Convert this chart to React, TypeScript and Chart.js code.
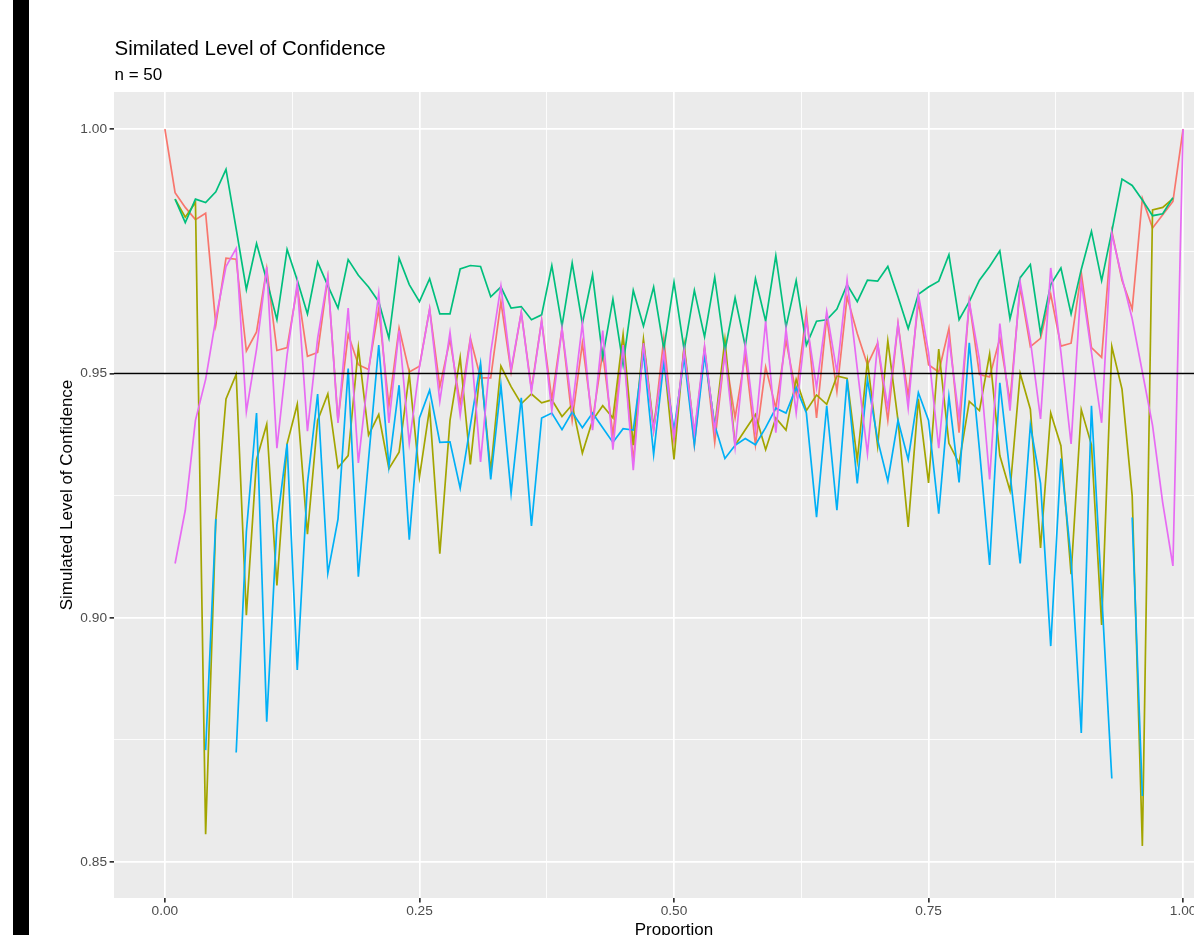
import React, { useEffect, useRef } from "react";
import { Chart, registerables } from "chart.js";

Chart.register(...registerables);

const proportion = [
  0, 0.01, 0.02, 0.03, 0.04, 0.05, 0.06, 0.07, 0.08, 0.09,
  0.1, 0.11, 0.12, 0.13, 0.14, 0.15, 0.16, 0.17, 0.18, 0.19,
  0.2, 0.21, 0.22, 0.23, 0.24, 0.25, 0.26, 0.27, 0.28, 0.29,
  0.3, 0.31, 0.32, 0.33, 0.34, 0.35, 0.36, 0.37, 0.38, 0.39,
  0.4, 0.41, 0.42, 0.43, 0.44, 0.45, 0.46, 0.47, 0.48, 0.49,
  0.5, 0.51, 0.52, 0.53, 0.54, 0.55, 0.56, 0.57, 0.58, 0.59,
  0.6, 0.61, 0.62, 0.63, 0.64, 0.65, 0.66, 0.67, 0.68, 0.69,
  0.7, 0.71, 0.72, 0.73, 0.74, 0.75, 0.76, 0.77, 0.78, 0.79,
  0.8, 0.81, 0.82, 0.83, 0.84, 0.85, 0.86, 0.87, 0.88, 0.89,
  0.9, 0.91, 0.92, 0.93, 0.94, 0.95, 0.96, 0.97, 0.98, 0.99,
  1.0,
];

const seriesRed = [
  1.0, 0.987, 0.984, 0.9815, 0.9828, 0.96, 0.9736, 0.9734, 0.9546, 0.9585,
  0.9715, 0.9547, 0.9553, 0.9677, 0.9535, 0.9543, 0.9696, 0.9404, 0.958, 0.9518,
  0.9508, 0.9632, 0.9434, 0.9593, 0.9503, 0.9515, 0.9632, 0.9473, 0.957, 0.9438,
  0.9572, 0.9491, 0.9491, 0.9647, 0.9503, 0.9625, 0.9468, 0.9608, 0.9446, 0.9592,
  0.9404, 0.9562, 0.9404, 0.9543, 0.9374, 0.9562, 0.9319, 0.9562, 0.9384, 0.9572,
  0.9364, 0.9553, 0.9354, 0.9553, 0.9359, 0.9543, 0.9409, 0.9538, 0.9354, 0.9513,
  0.9429, 0.9568, 0.9458, 0.9626, 0.9409, 0.9616, 0.9463, 0.9657, 0.9582, 0.9518,
  0.9562, 0.9404, 0.9602, 0.9453, 0.9647, 0.9518, 0.9503, 0.9592, 0.9379, 0.9647,
  0.9498, 0.9493, 0.9572, 0.9443, 0.9677, 0.9555, 0.9572, 0.9662, 0.9556, 0.9562,
  0.9706, 0.9553, 0.9533, 0.9791, 0.9691, 0.9632, 0.9858, 0.9798, 0.9825, 0.9852,
  1.0,
];

const seriesOlive = [
  null, 0.9857, 0.982, 0.985, 0.8557, 0.92, 0.9448, 0.9498, 0.9005, 0.9324,
  0.9396, 0.9066, 0.9356, 0.9437, 0.9171, 0.9404, 0.9458, 0.9307, 0.9332, 0.9553,
  0.9374, 0.9416, 0.9305, 0.9339, 0.9498, 0.9288, 0.9429, 0.9131, 0.9404, 0.9533,
  0.9314, 0.9513, 0.93, 0.9515, 0.9473, 0.9438, 0.9458, 0.944, 0.9446, 0.9412,
  0.9436, 0.9337, 0.9404, 0.9434, 0.9409, 0.958, 0.9353, 0.957, 0.9389, 0.9533,
  0.9324, 0.9558, 0.9374, 0.9548, 0.9389, 0.9569, 0.9353, 0.9385, 0.9416, 0.9344,
  0.9409, 0.9384, 0.9488, 0.9424, 0.9456, 0.9437, 0.9495, 0.949, 0.9322, 0.9525,
  0.9352, 0.9567, 0.9404, 0.9186, 0.9448, 0.9276, 0.955, 0.9357, 0.9316, 0.9443,
  0.9424, 0.954, 0.9332, 0.926, 0.95, 0.9427, 0.9143, 0.9419, 0.9352, 0.9089,
  0.9426, 0.9354, 0.8985, 0.9555, 0.9468, 0.925, 0.8533, 0.9835, 0.984, 0.9858,
  null,
];

const seriesGreen = [
  null, 0.9857, 0.9809, 0.9857, 0.985, 0.9872, 0.9918, 0.9796, 0.9672, 0.9766,
  0.9691, 0.961, 0.9754, 0.9691, 0.9622, 0.9728, 0.968, 0.9634, 0.9733, 0.9701,
  0.9677, 0.9647, 0.9572, 0.9736, 0.9682, 0.9647, 0.9694, 0.9622, 0.9622, 0.9714,
  0.9721, 0.9719, 0.9657, 0.9677, 0.9634, 0.9637, 0.961, 0.962, 0.9721, 0.9597,
  0.9726, 0.9602, 0.9702, 0.9533, 0.9652, 0.9518, 0.967, 0.9597, 0.9677, 0.955,
  0.9687, 0.9548, 0.967, 0.9575, 0.9697, 0.9546, 0.9655, 0.9556, 0.9694, 0.9607,
  0.9741, 0.9595, 0.969, 0.9558, 0.9607, 0.961, 0.9632, 0.9682, 0.9647, 0.9691,
  0.9689, 0.9719, 0.9657, 0.9592, 0.9662, 0.9677, 0.9689, 0.9743, 0.961, 0.9647,
  0.9691, 0.9719, 0.9751, 0.9612, 0.9696, 0.9723, 0.9582, 0.9682, 0.9716, 0.9622,
  0.9713, 0.9791, 0.969, 0.9791, 0.9898, 0.9885, 0.9855, 0.9823, 0.9827, 0.986,
  null,
];

const seriesBlue = [
  null, null, null, null, 0.8729, 0.9202, null, 0.8724, 0.9176, 0.9419,
  0.8787, 0.919, 0.9356, 0.8893, 0.9275, 0.9458, 0.9091, 0.9202, 0.951, 0.9084,
  0.9324, 0.9558, 0.931, 0.9476, 0.916, 0.9409, 0.9466, 0.9359, 0.936, 0.9265,
  0.9394, 0.9521, 0.9283, 0.9476, 0.9255, 0.945, 0.9188, 0.9409, 0.9419, 0.9385,
  0.9421, 0.9389, 0.9419, 0.9389, 0.9359, 0.9387, 0.9384, 0.9543, 0.9334, 0.9523,
  0.9384, 0.9533, 0.9354, 0.9538, 0.9394, 0.9326, 0.9353, 0.9367, 0.9354, 0.9389,
  0.9429, 0.9419, 0.9471, 0.9419, 0.9206, 0.9434, 0.922, 0.9488, 0.9275, 0.9488,
  0.9364, 0.928, 0.9404, 0.9324, 0.9461, 0.9404, 0.9213, 0.9453, 0.9277, 0.9563,
  0.9344, 0.9108, 0.9481, 0.9295, 0.9111, 0.9394, 0.9275, 0.8942, 0.9326, 0.912,
  0.8764, 0.9434, 0.905, 0.8671, null, 0.9205, 0.8635, null, null, null,
  null,
];

const seriesMagenta = [
  null, 0.9111, 0.922, 0.9404, 0.9488, 0.9612, 0.9719, 0.9756, 0.9422, 0.955,
  0.9718, 0.9347, 0.9538, 0.9685, 0.9382, 0.9572, 0.9698, 0.9399, 0.9634, 0.9317,
  0.9503, 0.9664, 0.9399, 0.9588, 0.9357, 0.9513, 0.9632, 0.9443, 0.9584, 0.9415,
  0.957, 0.9319, 0.9543, 0.9679, 0.9508, 0.9625, 0.9463, 0.9608, 0.9424, 0.9592,
  0.9429, 0.9602, 0.9384, 0.9588, 0.9344, 0.9558, 0.9302, 0.9562, 0.9384, 0.9543,
  0.9369, 0.9548, 0.9379, 0.9555, 0.9384, 0.9543, 0.9349, 0.9558, 0.9384, 0.9607,
  0.9379, 0.9591, 0.9419, 0.961, 0.9471, 0.9627, 0.9503, 0.9691, 0.951, 0.9336,
  0.9562, 0.9429, 0.9602, 0.9429, 0.9662, 0.9543, 0.9347, 0.9572, 0.9409, 0.9647,
  0.9528, 0.9283, 0.9602, 0.9424, 0.9687, 0.9568, 0.9407, 0.9716, 0.9543, 0.9356,
  0.9687, 0.9543, 0.9399, 0.9786, 0.9696, 0.9612, 0.9503, 0.9394, 0.9235, 0.9106,
  1.0,
];

const xTickValues = [0, 0.125, 0.25, 0.375, 0.5, 0.625, 0.75, 0.875, 1.0];
const xMajorTicks = [0, 0.25, 0.5, 0.75, 1.0];
const yTickValues = [0.85, 0.875, 0.9, 0.925, 0.95, 0.975, 1.0];
const yMajorTicks = [0.85, 0.9, 0.95, 1.0];
const referenceLevel = 0.95;

const titleText = "Similated Level of Confidence";
const subtitleText = "n = 50";
const xTitle = "Proportion";
const yTitle = "Simulated Level of Confidence";

const FONT = "'Liberation Sans', Arial, Helvetica, sans-serif";
const CANVAS_W = 1300;
const CANVAS_H = 935;

const isMajor = (v: number, list: number[]) => list.some((m) => Math.abs(m - v) < 1e-9);

export default function App() {
  const canvasRef = useRef<HTMLCanvasElement | null>(null);

  useEffect(() => {
    const canvas = canvasRef.current;
    if (!canvas) return;

    const mk = (label: string, values: (number | null)[], color: string, order: number) => ({
      label,
      data: proportion.map((p, i) => ({ x: p, y: values[i] })),
      borderColor: color,
      backgroundColor: color,
      borderWidth: 1.7,
      pointRadius: 0,
      tension: 0,
      spanGaps: false,
      order,
    });

    const ggplotDecor = {
      id: "ggplotDecor",
      beforeDraw(chart: any) {
        const { ctx, chartArea } = chart;
        ctx.save();
        ctx.fillStyle = "#EBEBEB";
        ctx.fillRect(chartArea.left, chartArea.top, chartArea.right - chartArea.left, chartArea.bottom - chartArea.top);
        ctx.restore();
      },
      afterDatasetsDraw(chart: any) {
        const { ctx, chartArea, scales } = chart;
        const y = scales.y.getPixelForValue(referenceLevel);
        ctx.save();
        ctx.strokeStyle = "#000000";
        ctx.lineWidth = 1.7;
        ctx.beginPath();
        ctx.moveTo(chartArea.left, y);
        ctx.lineTo(chartArea.right, y);
        ctx.stroke();
        ctx.restore();
      },
      afterDraw(chart: any) {
        const { ctx, chartArea } = chart;
        ctx.save();
        ctx.fillStyle = "#000000";
        ctx.textAlign = "left";
        ctx.textBaseline = "alphabetic";
        ctx.font = `20.5px ${FONT}`;
        ctx.fillText(titleText, chartArea.left + 0.5, 54.5);
        ctx.font = `17px ${FONT}`;
        ctx.fillText(subtitleText, chartArea.left + 0.5, 80);
        ctx.textAlign = "center";
        ctx.fillText(xTitle, (chartArea.left + chartArea.right) / 2, 935);
        ctx.translate(72, (chartArea.top + chartArea.bottom) / 2);
        ctx.rotate(-Math.PI / 2);
        ctx.fillText(yTitle, 0, 0);
        ctx.restore();
      },
    };

    const chart = new Chart(canvas, {
      type: "line",
      data: {
        datasets: [
          mk("red", seriesRed, "#F8766D", 5),
          mk("olive", seriesOlive, "#A3A500", 4),
          mk("green", seriesGreen, "#00BF7D", 3),
          mk("blue", seriesBlue, "#00B0F6", 2),
          mk("magenta", seriesMagenta, "#E76BF3", 1),
        ],
      },
      options: {
        responsive: false,
        animation: false,
        devicePixelRatio: 1,
        layout: { padding: { left: 0, right: CANVAS_W - 1234, top: 92, bottom: 0 } },
        plugins: {
          legend: { display: false },
          tooltip: { enabled: false },
          title: { display: false },
        },
        scales: {
          x: {
            type: "linear",
            min: -0.05,
            max: 1.05,
            afterBuildTicks: (scale: any) => {
              scale.ticks = xTickValues.map((v) => ({ value: v }));
            },
            afterFit: (scale: any) => {
              scale.height = 37;
              scale.paddingLeft = 0;
              scale.paddingRight = 0;
              scale.paddingTop = 0;
              scale.paddingBottom = 0;
            },
            border: { display: false },
            grid: {
              color: "#FFFFFF",
              lineWidth: (ctx: any) => (isMajor(ctx.tick?.value, xMajorTicks) ? 1.7 : 0.85),
              drawTicks: true,
              tickLength: 4.4,
              tickWidth: 1.7,
              tickColor: (ctx: any) => (isMajor(ctx.tick?.value, xMajorTicks) ? "#333333" : "rgba(0,0,0,0)"),
            },
            ticks: {
              autoSkip: false,
              maxRotation: 0,
              minRotation: 0,
              padding: 1,
              color: "#4D4D4D",
              font: { family: FONT, size: 13.7 },
              callback: (v: any) => (isMajor(Number(v), xMajorTicks) ? Number(v).toFixed(2) : ""),
            },
          },
          y: {
            type: "linear",
            min: 0.84263,
            max: 1.00762,
            afterBuildTicks: (scale: any) => {
              scale.ticks = yTickValues.map((v) => ({ value: v }));
            },
            afterFit: (scale: any) => {
              scale.width = 114;
              scale.paddingLeft = 0;
              scale.paddingRight = 0;
              scale.paddingTop = 0;
              scale.paddingBottom = 0;
            },
            border: { display: false },
            grid: {
              color: "#FFFFFF",
              lineWidth: (ctx: any) => (isMajor(ctx.tick?.value, yMajorTicks) ? 1.7 : 0.85),
              drawTicks: true,
              tickLength: 4.4,
              tickWidth: 1.7,
              tickColor: (ctx: any) => (isMajor(ctx.tick?.value, yMajorTicks) ? "#333333" : "rgba(0,0,0,0)"),
            },
            ticks: {
              autoSkip: false,
              padding: 2.6,
              color: "#4D4D4D",
              font: { family: FONT, size: 13.7 },
              callback: (v: any) => (isMajor(Number(v), yMajorTicks) ? Number(v).toFixed(2) : ""),
            },
          },
        },
      },
      plugins: [ggplotDecor],
    } as any);

    return () => chart.destroy();
  }, []);

  return (
    <div
      style={{
        position: "fixed",
        left: 0,
        top: 0,
        width: 1194,
        height: 935,
        overflow: "hidden",
        background: "#FFFFFF",
      }}
    >
      <canvas
        ref={canvasRef}
        width={CANVAS_W}
        height={CANVAS_H}
        style={{ position: "absolute", left: 0, top: 0, width: CANVAS_W, height: CANVAS_H }}
      />
      <div
        style={{
          position: "absolute",
          left: 13,
          top: 0,
          width: 16,
          height: 935,
          background: "#000000",
        }}
      />
    </div>
  );
}
